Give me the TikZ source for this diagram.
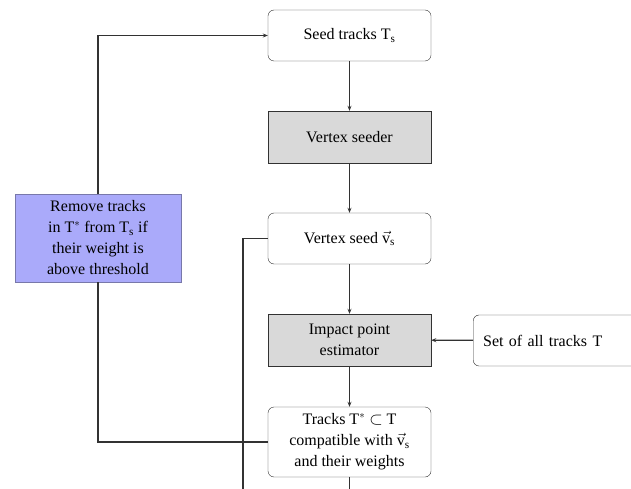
\documentclass[tikz,border=0pt]{standalone}
\usepackage{fontspec}
\setmainfont{Liberation Serif}
\usetikzlibrary{arrows.meta}
\definecolor{linegray}{RGB}{50,50,50}
\definecolor{stepgray}{RGB}{217,217,217}
\definecolor{removeblue}{RGB}{170,170,250}
\definecolor{removeedge}{RGB}{120,120,170}
\begin{document}
\begin{tikzpicture}[
    x=1pt, y=-1pt,
    font=\fontsize{16}{21}\selectfont,
    every node/.style={align=center, inner sep=2pt},
    databox/.style={draw=linegray, rounded corners=6pt, fill=white, minimum width=163pt, minimum height=51pt},
    procbox/.style={draw=linegray, fill=stepgray, minimum width=163pt, minimum height=52pt},
    removebox/.style={draw=removeedge, fill=removeblue, minimum width=166pt, minimum height=88pt},
    flow/.style={draw=linegray, line width=1.1pt, -{Stealth[length=5pt,width=4pt]}},
    plain/.style={draw=linegray, line width=1.1pt}
]
\useasboundingbox (0,0) rectangle (631,489);

\node[databox] (seed) at (349.5,35.5) {Seed tracks T\textsubscript{s}};
\node[procbox] (seeder) at (349.5,137) {Vertex seeder};
\node[databox] (vseed) at (349.5,238.5) {Vertex seed $\vec{\mathrm{v}}_{\mathrm{s}}$};
\node[procbox] (impact) at (349.5,340) {Impact point\\estimator};
\node[databox, minimum height=70pt] (tracks) at (349.5,442) {Tracks T$^{*}$ $\subset$ T\\compatible with $\vec{\mathrm{v}}_{\mathrm{s}}$\\and their weights};
\node[databox, anchor=west, minimum width=0pt, text width=150pt, align=left, inner xsep=10pt] (all) at (473,340.5) {Set of all tracks T};
\node[removebox] (remove) at (98,238) {Remove tracks\\in T$^{*}$ from T\textsubscript{s} if\\their weight is\\above threshold};

\coordinate (vout) at (243,495);
\coordinate (tout) at (349.5,495);

\draw[flow] (seed) -- (seeder);
\draw[flow] (seeder) -- (vseed);
\draw[flow] (vseed) -- (impact);
\draw[flow] (impact) -- (tracks);
\draw[flow] (all) -- (impact);
\draw[flow] (remove.north) |- (seed.west);
\draw[plain] (tracks.west) -| (remove.south);
\draw[plain] (vseed.west) -| (vout);
\draw[plain] (tracks.south) -- (tout);
\end{tikzpicture}
\end{document}
